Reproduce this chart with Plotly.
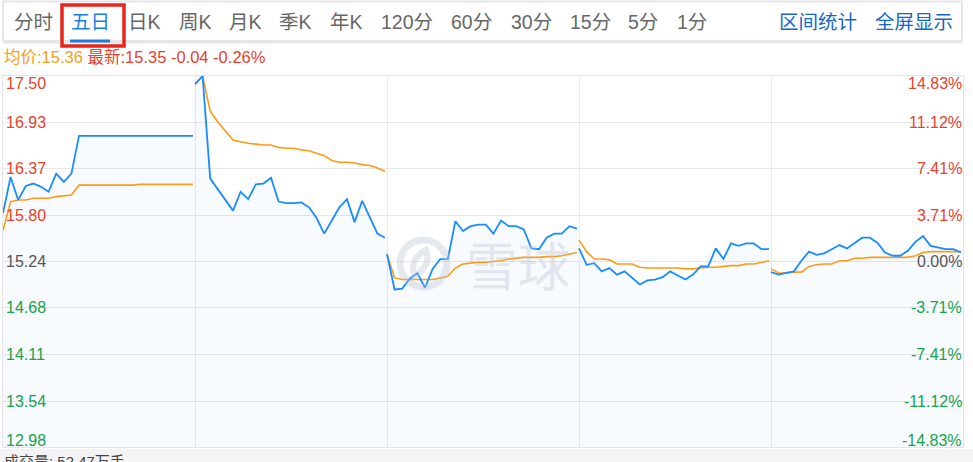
import plotly.graph_objects as go

# ---------------- data ----------------
PRICE_TICKS = [17.50, 16.93, 16.37, 15.80, 15.24, 14.68, 14.11, 13.54, 12.98]
PCT_TICKS = ["14.83%", "11.12%", "7.41%", "3.71%", "0.00%", "-3.71%", "-7.41%", "-11.12%", "-14.83%"]
PREV_CLOSE = 15.24

day1_price = [15.83, 16.27, 15.99, 16.16, 16.19, 16.15, 16.09, 16.31, 16.21, 16.31,
              16.77, 16.77, 16.77, 16.77, 16.77, 16.77, 16.77, 16.77, 16.77, 16.77,
              16.77, 16.77, 16.77, 16.77, 16.77, 16.77]
day1_avg = [15.62, 15.97, 15.99, 15.99, 16.01, 16.01, 16.01, 16.03, 16.04, 16.05,
            16.17, 16.17, 16.17, 16.17, 16.17, 16.17, 16.17, 16.17, 16.18, 16.18,
            16.18, 16.18, 16.18, 16.18, 16.18, 16.18]
day2_price = [17.40, 17.50, 16.25, 16.12, 15.99, 15.86, 16.09, 16.00, 16.18, 16.19,
              16.26, 15.97, 15.95, 15.95, 15.96, 15.90, 15.77, 15.58, 15.74, 15.90,
              16.00, 15.72, 15.98, 15.78, 15.58, 15.53]
day2_avg = [17.40, 17.50, 17.07, 16.94, 16.83, 16.72, 16.70, 16.68, 16.67, 16.66,
            16.66, 16.63, 16.62, 16.62, 16.60, 16.59, 16.56, 16.53, 16.47, 16.45,
            16.45, 16.44, 16.42, 16.41, 16.38, 16.34]
day3_price = [15.33, 14.90, 14.91, 15.03, 15.10, 14.92, 15.15, 15.27, 15.27, 15.73,
              15.61, 15.67, 15.69, 15.69, 15.58, 15.74, 15.67, 15.67, 15.63, 15.40,
              15.39, 15.53, 15.58, 15.58, 15.67, 15.64]
day3_avg = [15.33, 15.04, 15.02, 15.02, 15.02, 15.02, 15.02, 15.04, 15.06, 15.16,
            15.21, 15.22, 15.23, 15.23, 15.24, 15.25, 15.27, 15.28, 15.29, 15.29,
            15.29, 15.30, 15.30, 15.31, 15.33, 15.35]
day4_price = [15.40, 15.20, 15.22, 15.12, 15.16, 15.08, 15.12, 15.04, 14.96, 15.01,
              15.02, 15.05, 15.12, 15.07, 15.02, 15.08, 15.18, 15.18, 15.40, 15.27,
              15.46, 15.43, 15.46, 15.46, 15.39, 15.39]
day4_avg = [15.50, 15.36, 15.27, 15.27, 15.26, 15.21, 15.21, 15.21, 15.17, 15.16,
            15.16, 15.16, 15.16, 15.16, 15.15, 15.15, 15.16, 15.17, 15.17, 15.18,
            15.19, 15.19, 15.21, 15.21, 15.23, 15.25]
day5_price = [15.11, 15.08, 15.10, 15.12, 15.25, 15.36, 15.32, 15.34, 15.39, 15.44,
              15.40, 15.46, 15.53, 15.53, 15.47, 15.35, 15.31, 15.31, 15.37, 15.48,
              15.55, 15.43, 15.41, 15.39, 15.39, 15.35]
day5_avg = [15.15, 15.10, 15.10, 15.11, 15.11, 15.18, 15.20, 15.21, 15.21, 15.25,
            15.25, 15.28, 15.28, 15.29, 15.29, 15.29, 15.29, 15.29, 15.29, 15.31,
            15.35, 15.36, 15.36, 15.36, 15.36, 15.36]

PRICE_DAYS = [day1_price, day2_price, day3_price, day4_price, day5_price]
AVG_DAYS = [day1_avg, day2_avg, day3_avg, day4_avg, day5_avg]

TABS = ["分时", "五日", "日K", "周K", "月K", "季K", "年K", "120分", "60分", "30分", "15分", "5分", "1分"]
TAB_X = [33, 90, 144, 195, 245, 295, 346, 407, 471, 531, 590, 643, 692]
RIGHT_TABS = ["区间统计", "全屏显示"]
RIGHT_TAB_X = [818, 914]

AVG_TEXT = "均价:15.36"
LAST_TEXT = "最新:15.35 -0.04 -0.26%"
VOL_TEXT = "成交量: 52.47万手"

# ---------------- styling ----------------
W, H = 973, 462
DAY = 192 / 7.6  # slot units per trading day
BLUE = "#1a8cff"
ORANGE = "#ff9a16"
RED = "#e8412c"
GREEN = "#19a34a"
GRAY = "#555555"
FONT = "Liberation Sans, Arial, Noto Sans CJK SC, sans-serif"


def px(x):
    return x / W


def py(y):
    return 1 - y / H


fig = go.Figure()

# fill under the price line (continuous across days)
fx, fy = [], []
for d, vals in enumerate(PRICE_DAYS):
    for i, v in enumerate(vals):
        fx.append(d * DAY + i)
        fy.append(v)
fig.add_trace(go.Scatter(x=fx, y=fy, mode="lines", line=dict(width=0),
                         fill="tozeroy", fillcolor="rgba(40,100,230,0.035)",
                         hoverinfo="skip", showlegend=False))

for d in range(5):
    xs = [d * DAY + i for i in range(len(PRICE_DAYS[d]))]
    fig.add_trace(go.Scatter(x=xs, y=AVG_DAYS[d], mode="lines",
                             line=dict(color=ORANGE, width=1.6), showlegend=False))
    fig.add_trace(go.Scatter(x=xs, y=PRICE_DAYS[d], mode="lines",
                             line=dict(color=BLUE, width=1.8), showlegend=False))

fig.update_layout(
    width=W, height=H,
    margin=dict(l=0, r=0, t=0, b=0),
    paper_bgcolor="white", plot_bgcolor="white",
    showlegend=False,
    xaxis=dict(domain=[px(3), px(963)], range=[0, 5 * DAY],
               tickvals=[DAY * k for k in range(1, 5)],
               showgrid=True, gridcolor="#e9eaef", gridwidth=1,
               showticklabels=False, ticks="", zeroline=False,
               showline=True, mirror=True, linecolor="#e3e4e9", linewidth=1),
    yaxis=dict(domain=[py(447), py(76)], range=[PRICE_TICKS[-1], PRICE_TICKS[0]],
               tickvals=PRICE_TICKS,
               showgrid=True, gridcolor="#e6e7ec", gridwidth=1,
               showticklabels=False, ticks="", zeroline=False,
               showline=True, mirror=True, linecolor="#e3e4e9", linewidth=1),
)

ann = []
n = len(PRICE_TICKS)
for k, (p, pct) in enumerate(zip(PRICE_TICKS, PCT_TICKS)):
    if p > PREV_CLOSE + 1e-9:
        col = RED
    elif p < PREV_CLOSE - 1e-9:
        col = GREEN
    else:
        col = GRAY
    shift = -8 if k == 0 else (7 if k == n - 1 else 0)
    ann.append(dict(x=px(4), y=p, xref="paper", yref="y", text=f"{p:.2f}",
                    xanchor="left", yanchor="middle", yshift=shift, showarrow=False,
                    font=dict(family=FONT, size=16, color=col)))
    ann.append(dict(x=px(964), y=p, xref="paper", yref="y", text=pct,
                    xanchor="right", yanchor="middle", yshift=shift, showarrow=False,
                    font=dict(family=FONT, size=16, color=col)))

# tabs
for t, x in zip(TABS, TAB_X):
    ann.append(dict(x=px(x), y=py(22), xref="paper", yref="paper", text=t,
                    xanchor="center", yanchor="middle", showarrow=False,
                    font=dict(family=FONT, size=19.5,
                              color="#1a7fe0" if t == "五日" else "#666666")))
for t, x in zip(RIGHT_TABS, RIGHT_TAB_X):
    ann.append(dict(x=px(x), y=py(22), xref="paper", yref="paper", text=t,
                    xanchor="center", yanchor="middle", showarrow=False,
                    font=dict(family=FONT, size=19.5, color="#1668c8")))

# info line
ann.append(dict(x=px(2), y=py(57), xref="paper", yref="paper",
                text=f"<span style='color:#f5a01a'>{AVG_TEXT}</span> <span style='color:{RED}'>{LAST_TEXT}</span>",
                xanchor="left", yanchor="middle", showarrow=False,
                font=dict(family=FONT, size=16.5)))

# watermark
ann.append(dict(x=px(518), y=py(263), xref="paper", yref="paper", text="雪球",
                xanchor="center", yanchor="middle", showarrow=False,
                font=dict(family="Noto Sans CJK SC, sans-serif", size=52,
                          color="rgba(190,198,214,0.4)")))

# volume caption (cut off at bottom, as in the source)
ann.append(dict(x=px(2), y=py(451), xref="paper", yref="paper", text=VOL_TEXT,
                xanchor="left", yanchor="top", showarrow=False,
                font=dict(family=FONT, size=15, color="#444444")))

shapes = [
    # bottom grey strip
    dict(type="rect", xref="paper", yref="paper", x0=0, x1=1, y0=0, y1=py(449),
         fillcolor="#f4f4f6", line=dict(width=0), layer="below"),
    # tab bar box
    dict(type="rect", xref="paper", yref="paper", x0=px(3), x1=px(962), y0=py(41), y1=py(1.5),
         fillcolor="rgba(0,0,0,0)", line=dict(color="#e5e6eb", width=2)),
    dict(type="line", xref="paper", yref="paper", x0=px(3), x1=px(962), y0=py(42), y1=py(42),
         line=dict(color="#e5e6eb", width=3)),
    # active tab underline
    dict(type="rect", xref="paper", yref="paper", x0=px(70), x1=px(110), y0=py(42.5), y1=py(39.5),
         fillcolor="#1a7fe0", line=dict(width=0)),
    # red highlight box
    dict(type="rect", xref="paper", yref="paper", x0=px(62), x1=px(124), y0=py(46), y1=py(5),
         fillcolor="rgba(0,0,0,0)", line=dict(color="#e8261c", width=3.5)),
    # watermark logo ring
    dict(type="circle", xref="paper", yref="paper", x0=px(400), x1=px(447), y0=py(287), y1=py(240),
         fillcolor="rgba(0,0,0,0)", line=dict(color="rgba(190,198,214,0.4)", width=7)),
    dict(type="path", xref="paper", yref="paper",
         path=f"M {px(414)} {py(276)} Q {px(410)} {py(258)} {px(426)} {py(250)} Q {px(432)} {py(266)} {px(414)} {py(276)} Z",
         fillcolor="rgba(0,0,0,0)", line=dict(color="rgba(190,198,214,0.4)", width=6)),
]

fig.update_layout(annotations=ann, shapes=shapes)
fig.write_html("out.html", config={"displayModeBar": False},
               post_script="document.body.style.margin='0px';")
